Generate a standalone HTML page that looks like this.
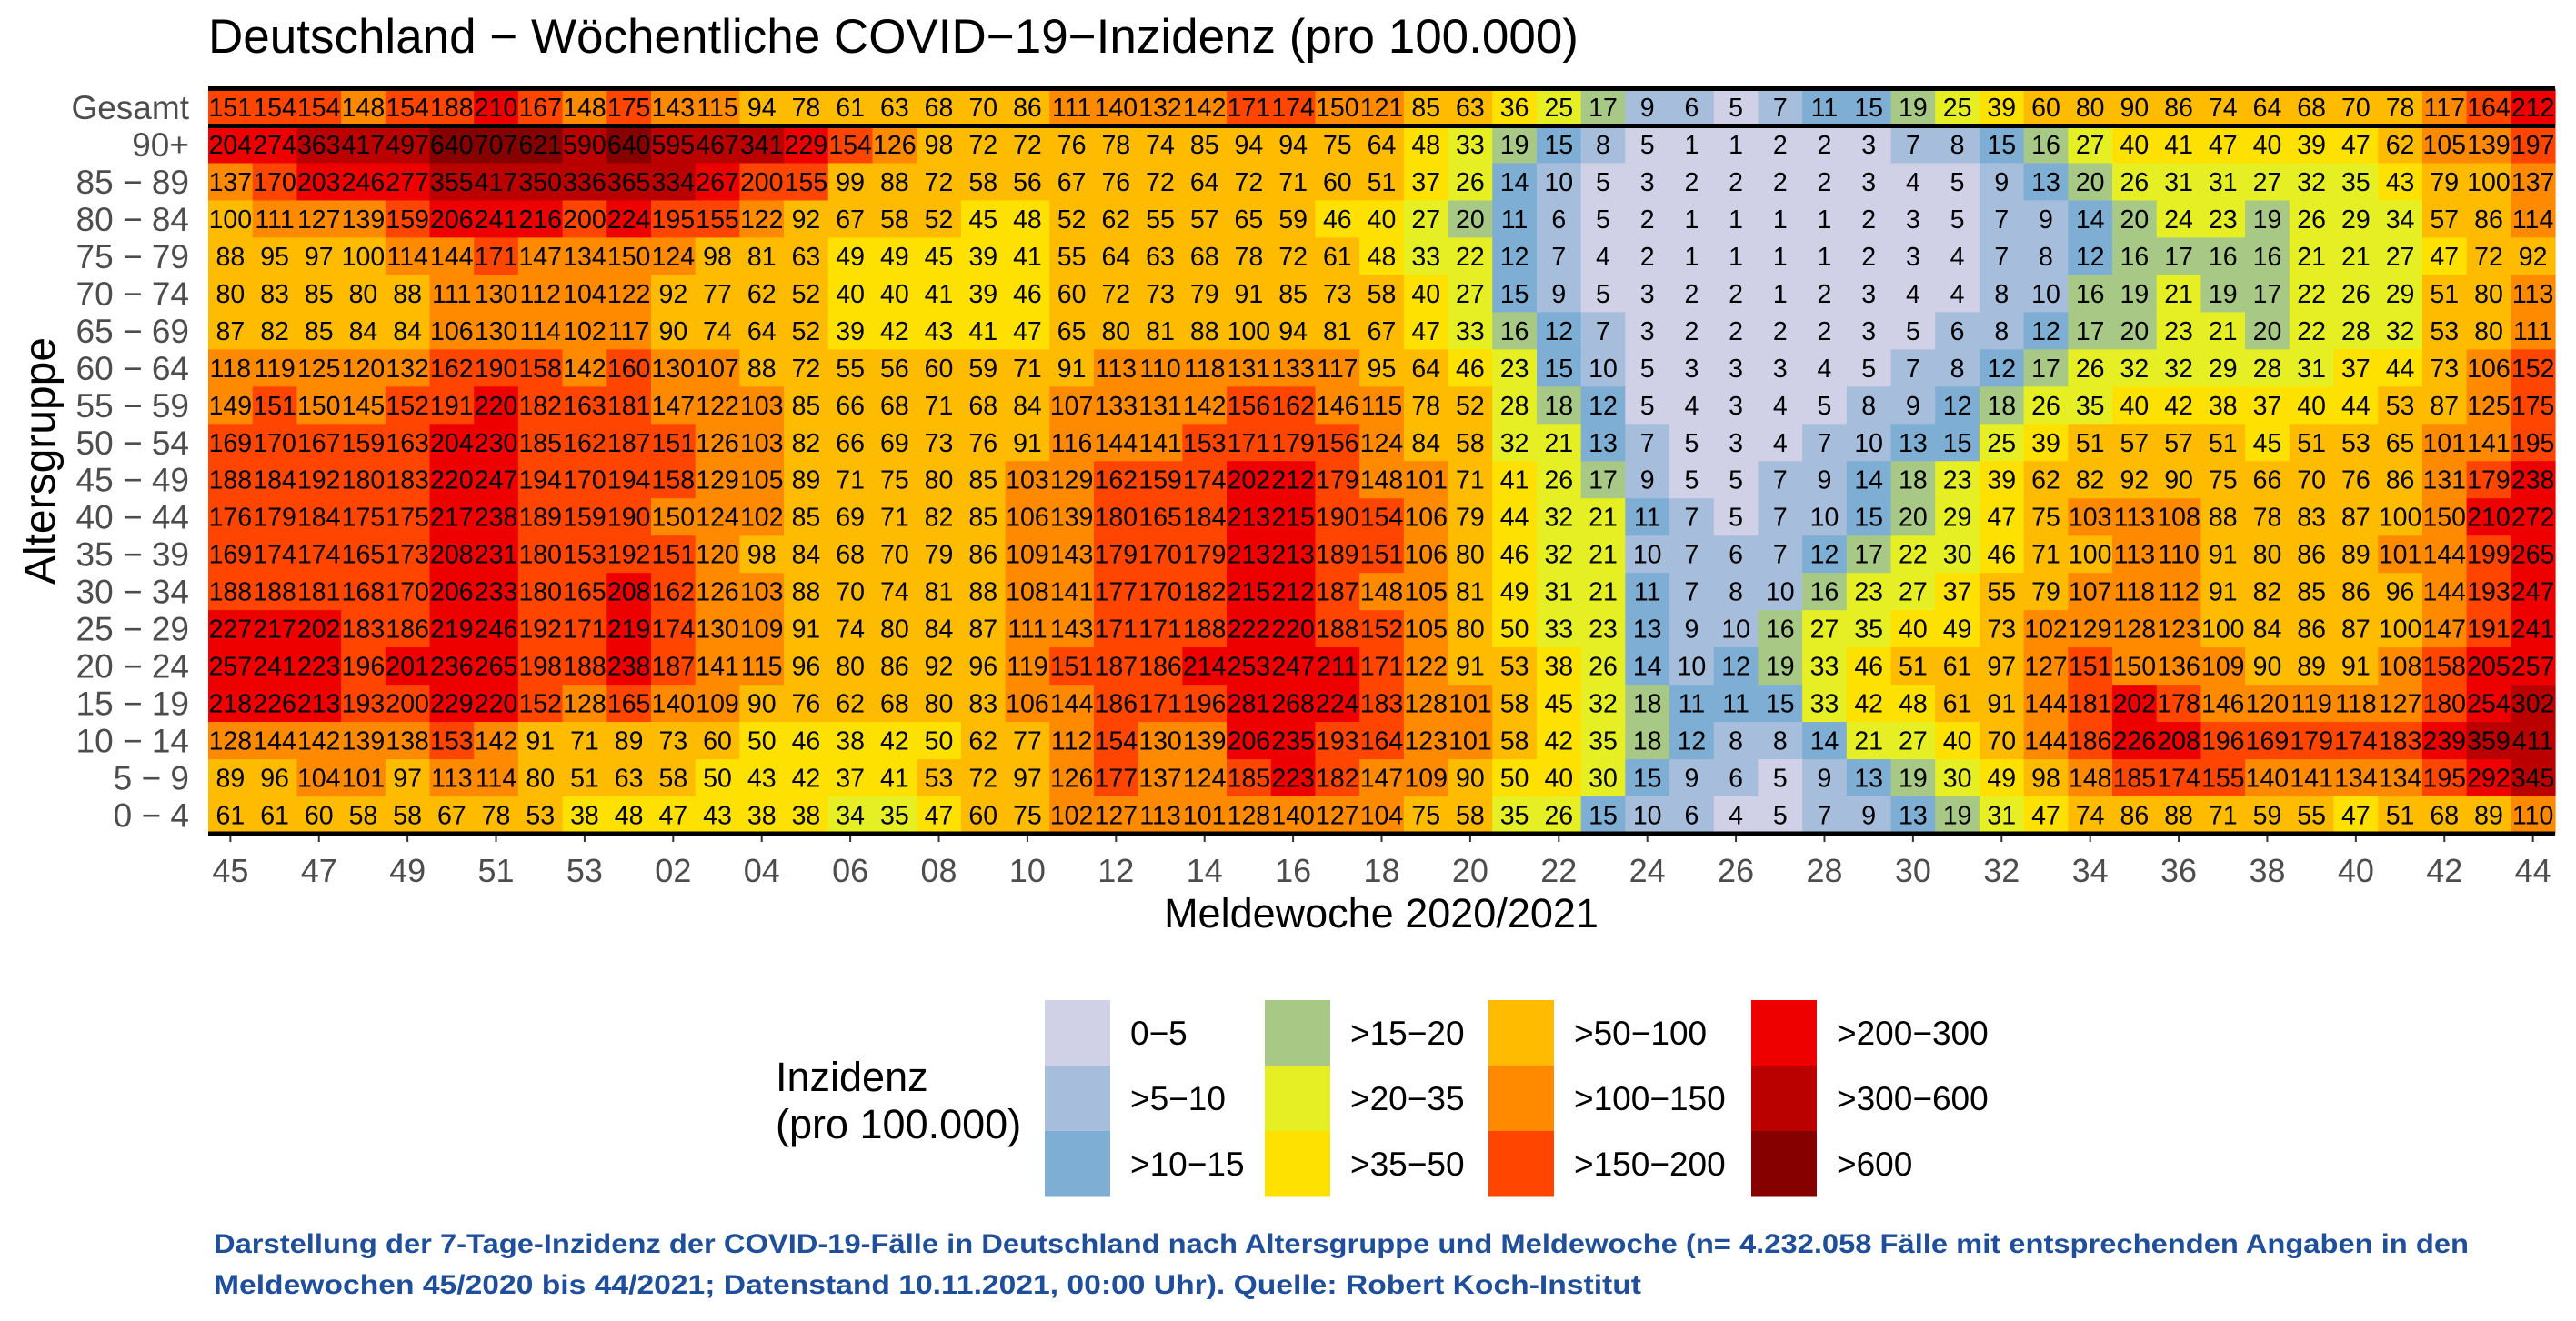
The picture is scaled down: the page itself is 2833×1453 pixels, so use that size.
<!DOCTYPE html>
<html><head><meta charset="utf-8"><style>
body{margin:0;background:#fff;width:2833px;height:1453px;overflow:hidden;font-family:"Liberation Sans",sans-serif;}
svg{display:block}
</style></head><body>
<svg id="chart" width="2833" height="1453" xmlns="http://www.w3.org/2000/svg" font-family="Liberation Sans, sans-serif">
<text x="229" y="58" font-size="53" fill="#000">Deutschland − Wöchentliche COVID−19−Inzidenz (pro 100.000)</text>
<g id="cells"></g>
<g id="ylabels"></g>
<g id="xlabels"></g>
<text transform="translate(60,507) rotate(-90)" text-anchor="middle" font-size="48" fill="#000">Altersgruppe</text>
<text x="1519" y="1020" text-anchor="middle" font-size="45" fill="#000">Meldewoche 2020/2021</text>
<g id="legend">
<text x="853" y="1200" font-size="45" fill="#000">Inzidenz</text>
<text x="853" y="1252" font-size="45" fill="#000">(pro 100.000)</text>
</g>
<text x="235" y="1378" font-size="30" font-weight="bold" fill="#1f4e9a" textLength="2480" lengthAdjust="spacingAndGlyphs">Darstellung der 7-Tage-Inzidenz der COVID-19-Fälle in Deutschland nach Altersgruppe und Meldewoche (n= 4.232.058 Fälle mit entsprechenden Angaben in den</text>
<text x="235" y="1423" font-size="30" font-weight="bold" fill="#1f4e9a" textLength="1570" lengthAdjust="spacingAndGlyphs">Meldewochen 45/2020 bis 44/2021; Datenstand 10.11.2021, 00:00 Uhr). Quelle: Robert Koch-Institut</text>
</svg>
<script>
const weeks = ["45","46","47","48","49","50","51","52","53","01","02","03","04","05","06","07","08","09","10","11","12","13","14","15","16","17","18","19","20","21","22","23","24","25","26","27","28","29","30","31","32","33","34","35","36","37","38","39","40","41","42","43","44"];
const ageGroups = ["Gesamt","90+","85 − 89","80 − 84","75 − 79","70 − 74","65 − 69","60 − 64","55 − 59","50 − 54","45 − 49","40 − 44","35 − 39","30 − 34","25 − 29","20 − 24","15 − 19","10 − 14","5 − 9","0 − 4"];
const rowGesamt = [151,154,154,148,154,188,210,167,148,175,143,115,94,78,61,63,68,70,86,111,140,132,142,171,174,150,121,85,63,36,25,17,9,6,5,7,11,15,19,25,39,60,80,90,86,74,64,68,70,78,117,164,212];
const row90 = [204,274,363,417,497,640,707,621,590,640,595,467,341,229,154,126,98,72,72,76,78,74,85,94,94,75,64,48,33,19,15,8,5,1,1,2,2,3,7,8,15,16,27,40,41,47,40,39,47,62,105,139,197];
const row85 = [137,170,203,246,277,355,417,350,336,365,334,267,200,155,99,88,72,58,56,67,76,72,64,72,71,60,51,37,26,14,10,5,3,2,2,2,2,3,4,5,9,13,20,26,31,31,27,32,35,43,79,100,137];
const row80 = [100,111,127,139,159,206,241,216,200,224,195,155,122,92,67,58,52,45,48,52,62,55,57,65,59,46,40,27,20,11,6,5,2,1,1,1,1,2,3,5,7,9,14,20,24,23,19,26,29,34,57,86,114];
const row75 = [88,95,97,100,114,144,171,147,134,150,124,98,81,63,49,49,45,39,41,55,64,63,68,78,72,61,48,33,22,12,7,4,2,1,1,1,1,2,3,4,7,8,12,16,17,16,16,21,21,27,47,72,92];
const row70 = [80,83,85,80,88,111,130,112,104,122,92,77,62,52,40,40,41,39,46,60,72,73,79,91,85,73,58,40,27,15,9,5,3,2,2,1,2,3,4,4,8,10,16,19,21,19,17,22,26,29,51,80,113];
const row65 = [87,82,85,84,84,106,130,114,102,117,90,74,64,52,39,42,43,41,47,65,80,81,88,100,94,81,67,47,33,16,12,7,3,2,2,2,2,3,5,6,8,12,17,20,23,21,20,22,28,32,53,80,111];
const row60 = [118,119,125,120,132,162,190,158,142,160,130,107,88,72,55,56,60,59,71,91,113,110,118,131,133,117,95,64,46,23,15,10,5,3,3,3,4,5,7,8,12,17,26,32,32,29,28,31,37,44,73,106,152];
const row55 = [149,151,150,145,152,191,220,182,163,181,147,122,103,85,66,68,71,68,84,107,133,131,142,156,162,146,115,78,52,28,18,12,5,4,3,4,5,8,9,12,18,26,35,40,42,38,37,40,44,53,87,125,175];
const row50 = [169,170,167,159,163,204,230,185,162,187,151,126,103,82,66,69,73,76,91,116,144,141,153,171,179,156,124,84,58,32,21,13,7,5,3,4,7,10,13,15,25,39,51,57,57,51,45,51,53,65,101,141,195];
const row45 = [188,184,192,180,183,220,247,194,170,194,158,129,105,89,71,75,80,85,103,129,162,159,174,202,212,179,148,101,71,41,26,17,9,5,5,7,9,14,18,23,39,62,82,92,90,75,66,70,76,86,131,179,238];
const row40 = [176,179,184,175,175,217,238,189,159,190,150,124,102,85,69,71,82,85,106,139,180,165,184,213,215,190,154,106,79,44,32,21,11,7,5,7,10,15,20,29,47,75,103,113,108,88,78,83,87,100,150,210,272];
const row35 = [169,174,174,165,173,208,231,180,153,192,151,120,98,84,68,70,79,86,109,143,179,170,179,213,213,189,151,106,80,46,32,21,10,7,6,7,12,17,22,30,46,71,100,113,110,91,80,86,89,101,144,199,265];
const row30 = [188,188,181,168,170,206,233,180,165,208,162,126,103,88,70,74,81,88,108,141,177,170,182,215,212,187,148,105,81,49,31,21,11,7,8,10,16,23,27,37,55,79,107,118,112,91,82,85,86,96,144,193,247];
const row25 = [227,217,202,183,186,219,246,192,171,219,174,130,109,91,74,80,84,87,111,143,171,171,188,222,220,188,152,105,80,50,33,23,13,9,10,16,27,35,40,49,73,102,129,128,123,100,84,86,87,100,147,191,241];
const row20 = [257,241,223,196,201,236,265,198,188,238,187,141,115,96,80,86,92,96,119,151,187,186,214,253,247,211,171,122,91,53,38,26,14,10,12,19,33,46,51,61,97,127,151,150,136,109,90,89,91,108,158,205,257];
const row15 = [218,226,213,193,200,229,220,152,128,165,140,109,90,76,62,68,80,83,106,144,186,171,196,281,268,224,183,128,101,58,45,32,18,11,11,15,33,42,48,61,91,144,181,202,178,146,120,119,118,127,180,254,302];
const row10 = [128,144,142,139,138,153,142,91,71,89,73,60,50,46,38,42,50,62,77,112,154,130,139,206,235,193,164,123,101,58,42,35,18,12,8,8,14,21,27,40,70,144,186,226,208,196,169,179,174,183,239,359,411];
const row5 = [89,96,104,101,97,113,114,80,51,63,58,50,43,42,37,41,53,72,97,126,177,137,124,185,223,182,147,109,90,50,40,30,15,9,6,5,9,13,19,30,49,98,148,185,174,155,140,141,134,134,195,292,345];
const row0 = [61,61,60,58,58,67,78,53,38,48,47,43,38,38,34,35,47,60,75,102,127,113,101,128,140,127,104,75,58,35,26,15,10,6,4,5,7,9,13,19,31,47,74,86,88,71,59,55,47,51,68,89,110];
const binUpper = [5,10,15,20,35,50,100,150,200,300,600,Infinity];
const binLabels = ["0−5",">5−10",">10−15",">15−20",">20−35",">35−50",">50−100",">100−150",">150−200",">200−300",">300−600",">600"];
const binColors = ["#d0d1e6","#a6bddb","#7eaed3","#a7c985","#e5ef24","#ffe100","#ffbb00","#ff8a00","#ff4500","#ee0000","#bb0000","#870000"];

const rows = [rowGesamt,row90,row85,row80,row75,row70,row65,row60,row55,row50,row45,row40,row35,row30,row25,row20,row15,row10,row5,row0];
const NS = "http://www.w3.org/2000/svg";
const X0 = 229, X1 = 2810, Y0 = 97.5, Y1 = 917;
const cw = (X1 - X0) / weeks.length, rh = (Y1 - Y0) / ageGroups.length;
const xPos = i => X0 + i * cw;
const yPos = j => Y0 + j * rh;
function colorFor(v){ for(let k=0;k<binUpper.length;k++){ if(v<=binUpper[k]) return binColors[k]; } return binColors[binColors.length-1]; }
function mk(tag, attrs, parent){ const e=document.createElementNS(NS,tag); for(const k in attrs) e.setAttribute(k,attrs[k]); parent.appendChild(e); return e; }

const cells = document.getElementById('cells');
rows.forEach((row, j) => {
  row.forEach((v, i) => {
    const r = mk('rect', {x: xPos(i), y: yPos(j), width: cw + 0.6, height: rh + 0.6, fill: colorFor(v)}, cells);
    
    
  });
});
rows.forEach((row, j) => {
  row.forEach((v, i) => {
    const t = mk('text', {x: xPos(i) + cw/2, y: yPos(j) + rh/2 + 10, 'text-anchor': 'middle', 'font-size': 28.5, fill: '#000'}, cells);
    
    
    t.textContent = v;
  });
});
[[Y0, 5], [yPos(1), 5], [Y1, 5]].forEach(([y, w]) => {
  const l = mk('line', {x1: X0, x2: X1, y1: y, y2: y, stroke: '#000', 'stroke-width': w}, cells);
  
  
});
const yl = document.getElementById('ylabels');
ageGroups.forEach((g, j) => {
  const t = mk('text', {x: 208, y: yPos(j) + rh/2 + 13, 'text-anchor': 'end', 'font-size': 37, fill: '#4d4d4d'}, yl);
  
  
  t.textContent = g;
});
const xl = document.getElementById('xlabels');
weeks.forEach((w, i) => {
  if (i % 2 !== 0) return;
  const tk = mk('line', {x1: xPos(i)+cw/2, x2: xPos(i)+cw/2, y1: Y1+2, y2: Y1+9, stroke: '#333', 'stroke-width': 2}, xl);
  
  
  const t = mk('text', {x: xPos(i) + cw/2, y: 970, 'text-anchor': 'middle', 'font-size': 36, fill: '#4d4d4d'}, xl);
  
  
  t.textContent = w;
});
const lg = document.getElementById('legend');
const colX = [1149, 1391, 1637, 1926], rowY = [1100, 1172, 1244], sw = 72;
binLabels.forEach((lab, k) => {
  const c = Math.floor(k / 3), r = k % 3;
  const s = mk('rect', {x: colX[c], y: rowY[r], width: sw, height: 72.5, fill: binColors[k]}, lg);
  
  
  const t = mk('text', {x: colX[c] + sw + 22, y: rowY[r] + 49, 'font-size': 37, fill: '#000'}, lg);
  
  
  t.textContent = lab;
});
</script>
</body></html>
